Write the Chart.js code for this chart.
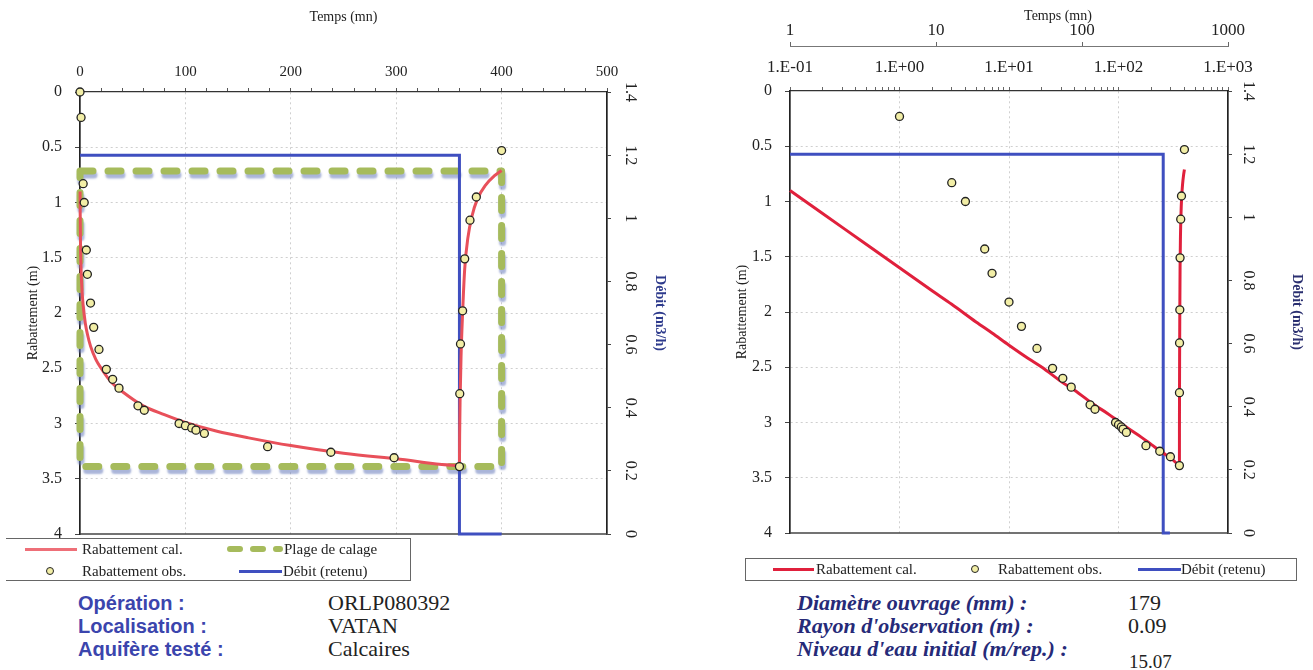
<!DOCTYPE html>
<html>
<head>
<meta charset="utf-8">
<script src="https://cdn.jsdelivr.net/npm/chart.js@4.4.0/dist/chart.umd.min.js"></script>
<style>
  body { margin: 0; width: 1313px; height: 670px; background: #fff; position: relative; overflow: hidden;
         font-family: "Liberation Serif", "Times New Roman", serif; color: #222; }
  canvas { position: absolute; top: 0; }
  #courbeLin { left: 0; }
  #courbeLog { left: 700px; }
  .box { position: absolute; border: 1px solid #666; box-sizing: border-box; }
  .t { position: absolute; white-space: nowrap; line-height: 20px; height: 20px; font-size: 15px; }
  .ln { position: absolute; height: 3px; }
  .pt { position: absolute; width: 8px; height: 8px; border: 1.3px solid #222; border-radius: 50%; background: #f2eea6; box-sizing: border-box; }
  .lab { position: absolute; white-space: nowrap; line-height: 24px; height: 24px; }
  .lab.op { font-family: "Liberation Sans", Arial, sans-serif; font-weight: bold; font-size: 20px; color: #3b45ad; }
  .lab.val { font-size: 22px; color: #222; }
  .lab.it { font-weight: bold; font-style: italic; font-size: 22px; color: #262a78; }
  .ttl { position: absolute; white-space: nowrap; font-size: 14px; line-height: 18px; transform: translateX(-50%); }
</style>
</head>
<body>
<canvas id="courbeLin" width="700" height="550"></canvas>
<canvas id="courbeLog" width="613" height="550"></canvas>
<div class="ttl" style="left:1058px;top:7px">Temps (mn)</div>

<!-- legende graphe lineaire -->
<div class="box" style="left:6px;top:538px;width:405px;height:43px;border-left:none"></div>
<div class="ln" style="left:25px;top:548px;width:52px;background:#ee6f78"></div>
<div class="t" style="left:82px;top:539px">Rabattement cal.</div>
<svg style="position:absolute;left:226px;top:544px" width="58" height="12">
  <line x1="4" y1="5" x2="54" y2="5" stroke="#a6bb5c" stroke-width="6" stroke-linecap="round" stroke-dasharray="10 13"/>
</svg>
<div class="t" style="left:284px;top:539px">Plage de calage</div>
<div class="pt" style="left:46px;top:567px"></div>
<div class="t" style="left:82px;top:561px">Rabattement obs.</div>
<div class="ln" style="left:239px;top:570px;width:43px;background:#3f4fc0"></div>
<div class="t" style="left:283px;top:561px">Débit (retenu)</div>

<!-- legende graphe semi-log -->
<div class="box" style="left:745px;top:558px;width:552px;height:23px"></div>
<div class="ln" style="left:773px;top:568px;width:41px;background:#e0203c"></div>
<div class="t" style="left:816px;top:559px">Rabattement cal.</div>
<div class="pt" style="left:971px;top:565px"></div>
<div class="t" style="left:998px;top:559px">Rabattement obs.</div>
<div class="ln" style="left:1138px;top:568px;width:43px;background:#3f4fc0"></div>
<div class="t" style="left:1181px;top:559px">Débit (retenu)</div>

<!-- fiche essai -->
<div class="lab op" style="left:78px;top:591px">Opération :</div>
<div class="lab op" style="left:78px;top:614px">Localisation :</div>
<div class="lab op" style="left:78px;top:637px">Aquifère testé :</div>
<div class="lab val" style="left:328px;top:591px">ORLP080392</div>
<div class="lab val" style="left:328px;top:614px">VATAN</div>
<div class="lab val" style="left:328px;top:637px">Calcaires</div>

<div class="lab it" style="left:797px;top:591px">Diamètre ouvrage (mm) :</div>
<div class="lab it" style="left:797px;top:614px">Rayon d'observation (m) :</div>
<div class="lab it" style="left:797px;top:637px">Niveau d'eau initial (m/rep.) :</div>
<div class="lab val" style="left:1128px;top:591px">179</div>
<div class="lab val" style="left:1128px;top:614px">0.09</div>
<div class="lab val" style="left:1129px;top:650px;font-size:19px">15.07</div>

<script>
// temps (mn) et rabattements observes
const tObs = [0, 1, 3, 4, 6, 7, 10, 13, 18, 25, 31, 37, 55, 61, 94, 100, 106, 110, 118, 178, 238, 298, 360,
              360.3, 361, 363, 365, 370, 376, 400];
const sObs = [0, 0.23, 0.83, 1.0, 1.43, 1.65, 1.91, 2.13, 2.33, 2.51, 2.6, 2.68, 2.84, 2.88, 3.0, 3.02, 3.04, 3.06, 3.09, 3.21, 3.26, 3.31, 3.39,
              2.73, 2.28, 1.98, 1.51, 1.16, 0.95, 0.53];

// rabattement calcule (descente puis remontee)
const tCal = [0.1, 0.2, 0.5, 1, 2, 3, 5, 7, 10, 15, 20, 30, 40, 60, 80, 100, 130, 160, 200, 250, 300, 360,
              360.2, 360.6, 361.5, 363, 365, 368, 372, 377, 385, 393, 400];
const sCal = [0.9, 1.11, 1.39, 1.6, 1.81, 1.93, 2.09, 2.19, 2.3, 2.42, 2.5, 2.63, 2.71, 2.84, 2.92, 2.99, 3.07, 3.13, 3.2, 3.27, 3.32, 3.38,
              3.1, 2.8, 2.4, 2.0, 1.6, 1.32, 1.12, 0.97, 0.84, 0.76, 0.71];

// debit retenu (m3/h)
const tDebit = [0, 360, 360, 400];
const tDebitLog = [1, 360, 360, 400];
const qDebit = [1.2, 1.2, 0, 0];

// plage de calage
const tPlage = [0, 400, 400, 0, 0];
const sPlage = [0.715, 0.715, 3.39, 3.39, 0.715];

// graduations
const ticksTemps = [0, 20, 40, 60, 80, 100, 120, 140, 160, 180, 200, 220, 240, 260, 280, 300, 320, 340, 360, 380, 400, 420, 440, 460, 480, 500];
const ticksRab = [0, 0.5, 1, 1.5, 2, 2.5, 3, 3.5, 4];
const ticksDebit = [0, 0.2, 0.4, 0.6, 0.8, 1, 1.2, 1.4];
const decades = [0.1, 1, 10, 100, 1000];
const decadesMn = [1, 10, 100, 1000];

const ticksLog = [];
decades.forEach((d, i) => {
  ticksLog.push(d);
  if (i < decades.length - 1) for (let k = 2; k <= 9; k++) ticksLog.push(+(d * k).toPrecision(3));
});

const xy = (xs, ys) => xs.map((x, i) => ({ x: x, y: ys[i] }));
const serif = "'Liberation Serif', 'Times New Roman', serif";
const GRID = '#cfcfcf';

const fixBox = (size) => (s) => {
  if (s.isHorizontal()) s.height = size; else s.width = size;
  s.paddingLeft = s.paddingRight = s.paddingTop = s.paddingBottom = 0;
};
const setTicks = (values) => (s) => { s.ticks = values.map(v => ({ value: v })); };

const expLabel = (v) => {
  const e = Math.round(Math.log10(v));
  return '1.E' + (e < 0 ? '-' : '+') + String(Math.abs(e)).padStart(2, '0');
};

// trait du bas du cadre
const bottomLine = {
  id: 'bottomLine',
  beforeDatasetsDraw(chart) {
    const a = chart.chartArea, ctx = chart.ctx;
    ctx.save();
    ctx.strokeStyle = '#444';
    ctx.lineWidth = 1.3;
    ctx.beginPath();
    ctx.moveTo(a.left, a.bottom);
    ctx.lineTo(a.right, a.bottom);
    ctx.stroke();
    ctx.restore();
  }
};

// graduations du debit ecrites verticalement
const debitLabels = {
  id: 'debitLabels',
  afterDraw(chart, args, opts) {
    const s = chart.scales.y2, ctx = chart.ctx;
    ctx.save();
    ctx.font = '16px ' + serif;
    ctx.fillStyle = '#222';
    ctx.textAlign = 'center';
    ctx.textBaseline = 'middle';
    ticksDebit.forEach(v => {
      ctx.save();
      ctx.translate(s.left + opts.offset, s.getPixelForValue(v));
      ctx.rotate(Math.PI / 2);
      ctx.fillText(String(v), 0, 0);
      ctx.restore();
    });
    ctx.restore();
  }
};

// ombre sous les tirets de la plage de calage
const dashShadow = {
  id: 'dashShadow',
  beforeDatasetDraw(chart, args) {
    if (!chart.data.datasets[args.index].shadow) return;
    const ctx = chart.ctx;
    ctx.save();
    ctx.shadowColor = 'rgba(100,120,185,0.55)';
    ctx.shadowOffsetX = 1;
    ctx.shadowOffsetY = 4;
    ctx.shadowBlur = 2;
  },
  afterDatasetDraw(chart, args) {
    if (chart.data.datasets[args.index].shadow) chart.ctx.restore();
  }
};

const obsStyle = {
  pointRadius: 4, pointBackgroundColor: '#f2eea6', pointBorderColor: '#222', pointBorderWidth: 1.3,
  showLine: false, clip: false, order: 0
};

const yRab = (width, titlePad) => ({
  type: 'linear', position: 'left', reverse: true, min: 0, max: 4,
  afterBuildTicks: setTicks(ticksRab), afterFit: fixBox(width),
  ticks: { font: { family: serif, size: 16 }, color: '#222', padding: 13, callback: v => String(v) },
  grid: { color: c => (c.tick && c.tick.value > 0 && c.tick.value < 4) ? GRID : 'transparent',
          tickColor: '#444', tickLength: 5, tickBorderDash: [] },
  border: { color: '#222', width: 1.7, dash: [2, 3] },
  title: { display: true, text: 'Rabattement (m)', font: { family: serif, size: 14 }, color: '#222', padding: { top: titlePad, bottom: 0 } }
});

const yDebit = (width, titlePad, color) => ({
  type: 'linear', position: 'right', min: 0, max: 1.4,
  afterBuildTicks: setTicks(ticksDebit), afterFit: fixBox(width),
  ticks: { display: false },
  grid: { drawOnChartArea: false, tickColor: '#444', tickLength: 4 },
  border: { color: '#222', width: 1.7 },
  title: { display: true, text: 'Débit (m3/h)', font: { family: serif, size: 14, weight: 'bold' }, color: color, padding: { top: titlePad, bottom: 0 } }
});

// graphe en temps lineaire
new Chart(document.getElementById('courbeLin'), {
  type: 'scatter',
  data: {
    datasets: [
      Object.assign({ label: 'Rabattement obs.', data: xy(tObs, sObs), xAxisID: 'x', yAxisID: 'y' }, obsStyle),
      { label: 'Rabattement cal.', data: xy(tCal, sCal), xAxisID: 'x', yAxisID: 'y', showLine: true, pointRadius: 0,
        borderColor: '#e8505a', borderWidth: 3, cubicInterpolationMode: 'monotone', clip: 4, order: 1 },
      { label: 'Débit (retenu)', data: xy(tDebit, qDebit), xAxisID: 'x', yAxisID: 'y2', showLine: true, pointRadius: 0,
        borderColor: '#3f4fc0', borderWidth: 3, clip: false, order: 2 },
      { label: 'Plage de calage', data: xy(tPlage, sPlage), xAxisID: 'x', yAxisID: 'y', showLine: true, pointRadius: 0,
        borderColor: '#a6bb5c', borderWidth: 7, borderDash: [13, 15], borderCapStyle: 'round', borderJoinStyle: 'round',
        clip: 10, order: 3, shadow: true }
    ]
  },
  options: {
    responsive: false, animation: false, events: [],
    layout: { padding: { left: 0, right: 0, top: 0, bottom: 16 } },
    plugins: { legend: { display: false }, tooltip: { enabled: false }, debitLabels: { offset: 23 } },
    scales: {
      x: {
        type: 'linear', position: 'top', min: 0, max: 500,
        afterBuildTicks: setTicks(ticksTemps), afterFit: fixBox(92),
        ticks: { font: { family: serif, size: 15 }, color: '#222', padding: 7, autoSkip: false, maxRotation: 0,
                 callback: v => (v % 100 === 0 ? String(v) : '') },
        grid: { color: c => (c.tick && c.tick.value % 100 === 0 && c.tick.value > 0 && c.tick.value < 500) ? GRID : 'transparent',
                tickColor: '#555', tickLength: 4, tickBorderDash: [] },
        border: { color: '#333', width: 1.3, dash: [2, 3] },
        title: { display: true, text: 'Temps (mn)', font: { family: serif, size: 14 }, color: '#222', padding: { top: 9, bottom: 0 } }
      },
      y: yRab(80, 25),
      y2: yDebit(93, 32, '#2d3a8c')
    }
  },
  plugins: [bottomLine, debitLabels, dashShadow]
});

// graphe en temps logarithmique
new Chart(document.getElementById('courbeLog'), {
  type: 'scatter',
  data: {
    datasets: [
      Object.assign({ label: 'Rabattement obs.', data: xy(tObs, sObs).filter(p => p.x > 0), xAxisID: 'x', yAxisID: 'y' }, obsStyle),
      { label: 'Rabattement cal.', data: xy(tCal, sCal), xAxisID: 'x', yAxisID: 'y', showLine: true, pointRadius: 0,
        borderColor: '#e0203c', borderWidth: 3, cubicInterpolationMode: 'monotone', clip: 4, order: 1 },
      { label: 'Débit (retenu)', data: xy(tDebitLog, qDebit), xAxisID: 'x2', yAxisID: 'y2', showLine: true, pointRadius: 0,
        borderColor: '#3f4fc0', borderWidth: 3, clip: false, order: 2 }
    ]
  },
  options: {
    responsive: false, animation: false, events: [],
    layout: { padding: { left: 0, right: 0, top: 0, bottom: 17 } },
    plugins: { legend: { display: false }, tooltip: { enabled: false }, debitLabels: { offset: 20 } },
    scales: {
      x2: {
        type: 'logarithmic', position: 'top', weight: 1, min: 1, max: 1000,
        afterBuildTicks: setTicks(decadesMn), afterFit: fixBox(46),
        ticks: { font: { family: serif, size: 17 }, color: '#222', padding: 1, autoSkip: false, maxRotation: 0, callback: v => String(v) },
        grid: { drawOnChartArea: false, tickColor: '#666', tickLength: 4 },
        border: { color: '#777', width: 1 }
      },
      x: {
        type: 'logarithmic', position: 'top', weight: 0, min: 0.1, max: 1000,
        afterBuildTicks: setTicks(ticksLog), afterFit: fixBox(45),
        ticks: { font: { family: serif, size: 17 }, color: '#222', padding: 9, autoSkip: false, maxRotation: 0,
                 callback: v => (decades.includes(v) ? expLabel(v) : '') },
        grid: { color: c => (c.tick && [1, 10, 100].includes(c.tick.value)) ? GRID : 'transparent',
                tickColor: '#666', tickLength: 4, tickBorderDash: [] },
        border: { color: '#333', width: 1.3, dash: [2, 3] },
      },
      y: yRab(90, 34),
      y2: yDebit(85, 8, '#2a2f70')
    }
  },
  plugins: [bottomLine, debitLabels]
});
</script>
</body>
</html>
